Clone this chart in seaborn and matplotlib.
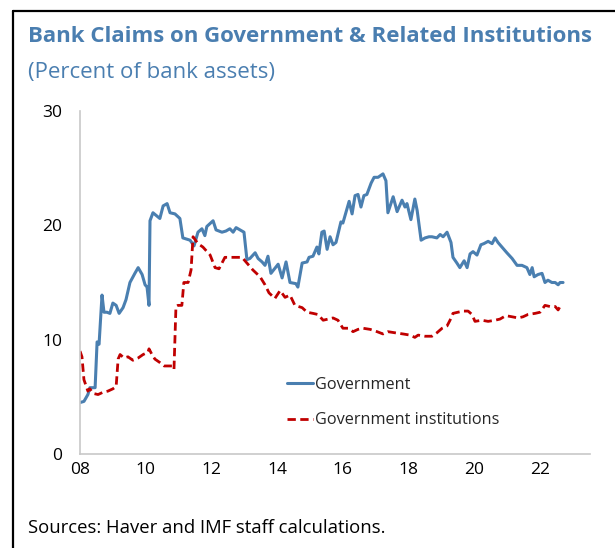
import matplotlib
matplotlib.use('Agg')
import matplotlib.pyplot as plt
from matplotlib.lines import Line2D
import seaborn as sns
import pandas as pd

# Data (decimal years)
gov_years = [2008.00, 2008.12, 2008.24, 2008.30, 2008.46, 2008.52, 2008.58, 2008.67, 2008.73, 2008.82,
             2008.91, 2009.00, 2009.10, 2009.19, 2009.31, 2009.40, 2009.52, 2009.67, 2009.77, 2009.89,
             2009.98, 2010.04, 2010.10, 2010.13, 2010.22, 2010.43, 2010.53, 2010.65, 2010.74, 2010.89,
             2011.04, 2011.13, 2011.35, 2011.47, 2011.59, 2011.71, 2011.80, 2011.86, 2012.05, 2012.14,
             2012.32, 2012.44, 2012.56, 2012.66, 2012.75, 2012.87, 2012.99, 2013.08, 2013.17, 2013.33,
             2013.42, 2013.54, 2013.63, 2013.72, 2013.81, 2014.03, 2014.15, 2014.27, 2014.39, 2014.57,
             2014.63, 2014.76, 2014.91, 2014.97, 2015.09, 2015.21, 2015.27, 2015.36, 2015.43, 2015.52,
             2015.61, 2015.70, 2015.79, 2015.94, 2016.00, 2016.19, 2016.28, 2016.37, 2016.46, 2016.55,
             2016.64, 2016.73, 2016.86, 2016.95, 2017.07, 2017.22, 2017.31, 2017.37, 2017.53, 2017.65,
             2017.80, 2017.89, 2017.95, 2018.07, 2018.19, 2018.26, 2018.38, 2018.50, 2018.62, 2018.71,
             2018.86, 2018.96, 2019.05, 2019.17, 2019.29, 2019.35, 2019.47, 2019.56, 2019.69, 2019.78,
             2019.87, 2019.96, 2020.08, 2020.20, 2020.29, 2020.42, 2020.54, 2020.63, 2020.72, 2020.84,
             2020.99, 2021.15, 2021.30, 2021.45, 2021.60, 2021.69, 2021.76, 2021.82, 2021.94, 2022.06,
             2022.15, 2022.24, 2022.36, 2022.46, 2022.55, 2022.61, 2022.70]
gov_values = [4.5, 4.6, 5.2, 5.8, 5.8, 9.8, 9.6, 13.9, 12.4, 12.4,
              12.3, 13.2, 13.0, 12.3, 12.8, 13.5, 15.0, 15.8, 16.3, 15.7,
              14.8, 14.6, 13.0, 20.4, 21.1, 20.6, 21.7, 21.9, 21.1, 21.0,
              20.6, 18.9, 18.7, 18.2, 19.4, 19.7, 19.1, 19.9, 20.4, 19.6,
              19.4, 19.5, 19.7, 19.4, 19.8, 19.6, 19.4, 17.0, 17.1, 17.6,
              17.1, 16.8, 16.5, 17.3, 15.8, 16.6, 15.4, 16.8, 15.0, 14.9,
              14.6, 16.7, 16.8, 17.2, 17.3, 18.1, 17.5, 19.4, 19.5, 17.9,
              19.0, 18.3, 18.5, 20.3, 20.2, 22.1, 21.0, 22.6, 22.7, 21.6,
              22.6, 22.7, 23.7, 24.2, 24.2, 24.5, 23.9, 21.1, 22.5, 21.2,
              22.2, 21.6, 21.9, 20.5, 22.3, 21.3, 18.7, 18.9, 19.0, 19.0,
              18.9, 19.2, 19.0, 19.4, 18.5, 17.2, 16.7, 16.3, 16.9, 16.3,
              17.5, 17.7, 17.4, 18.3, 18.4, 18.6, 18.4, 18.9, 18.5, 18.1,
              17.6, 17.1, 16.5, 16.5, 16.3, 15.7, 16.3, 15.5, 15.7, 15.8,
              15.0, 15.2, 15.0, 15.0, 14.8, 15.0, 15.0]

inst_years = [2008.00, 2008.06, 2008.12, 2008.24, 2008.30, 2008.40, 2008.55, 2008.70, 2008.85, 2009.00,
              2009.10, 2009.16, 2009.22, 2009.34, 2009.46, 2009.61, 2009.77, 2009.92, 2010.07, 2010.10,
              2010.19, 2010.28, 2010.43, 2010.56, 2010.68, 2010.80, 2010.86, 2010.92, 2010.98, 2011.10,
              2011.16, 2011.29, 2011.38, 2011.44, 2011.59, 2011.74, 2011.96, 2012.11, 2012.23, 2012.41,
              2012.66, 2012.93, 2013.08, 2013.26, 2013.48, 2013.63, 2013.75, 2013.93, 2014.09, 2014.24,
              2014.39, 2014.54, 2014.76, 2014.91, 2015.09, 2015.24, 2015.40, 2015.55, 2015.70, 2015.85,
              2016.00, 2016.16, 2016.31, 2016.46, 2016.61, 2016.83, 2017.04, 2017.22, 2017.37, 2017.59,
              2017.83, 2018.04, 2018.19, 2018.29, 2018.50, 2018.71, 2018.86, 2019.02, 2019.17, 2019.26,
              2019.35, 2019.50, 2019.66, 2019.81, 2019.93, 2020.02, 2020.23, 2020.42, 2020.63, 2020.78,
              2020.96, 2021.15, 2021.33, 2021.48, 2021.63, 2021.85, 2022.00, 2022.15, 2022.30, 2022.46,
              2022.55, 2022.61, 2022.70]
inst_values = [9.0, 8.5, 6.5, 5.5, 5.7, 5.3, 5.2, 5.4, 5.5, 5.7,
               5.9, 8.3, 8.7, 8.4, 8.5, 8.2, 8.4, 8.7, 8.9, 9.2,
               8.7, 8.3, 8.0, 7.7, 7.7, 7.7, 7.4, 12.9, 13.0, 13.0,
               15.0, 15.0, 16.1, 19.0, 18.4, 18.1, 17.4, 16.3, 16.2, 17.2,
               17.2, 17.2, 16.7, 16.1, 15.5, 14.8, 14.1, 13.6, 14.3, 13.7,
               13.9, 13.0, 12.8, 12.4, 12.3, 12.2, 11.7, 11.8, 11.9, 11.7,
               11.0, 11.0, 10.7, 10.9, 11.0, 10.9, 10.7, 10.5, 10.7, 10.6,
               10.5, 10.4, 10.2, 10.4, 10.3, 10.3, 10.6, 11.0, 11.2, 11.7,
               12.3, 12.4, 12.5, 12.5, 12.2, 11.6, 11.7, 11.6, 11.7, 11.8,
               12.1, 12.0, 11.9, 12.0, 12.2, 12.3, 12.4, 13.0, 12.9, 12.9,
               12.6, 12.9, 12.8]

x_ticks = [2008, 2010, 2012, 2014, 2016, 2018, 2020, 2022]
x_tick_labels = ['08', '10', '12', '14', '16', '18', '20', '22']
y_ticks = [0, 10, 20, 30]

title = 'Bank Claims on Government & Related Institutions'
subtitle = '(Percent of bank assets)'
source = 'Sources: Haver and IMF staff calculations.'

gov_df = pd.DataFrame({'year': gov_years, 'value': gov_values})
inst_df = pd.DataFrame({'year': inst_years, 'value': inst_values})

sns.set_style('white')
plt.rcParams['font.family'] = ['Open Sans', 'DejaVu Sans']

blue = '#4a7fb0'
red = '#c00000'
title_color = '#4a7eb0'
axis_gray = '#c8c8c8'

fig = plt.figure(figsize=(6.15, 5.48), dpi=100)
ax = fig.add_axes([80 / 615, 1 - 454 / 548, 510 / 615, (454 - 111) / 548])

sns.lineplot(data=gov_df, x='year', y='value', ax=ax, color=blue, linewidth=2.2,
             label='Government')
sns.lineplot(data=inst_df, x='year', y='value', ax=ax, color=red, linewidth=2.0,
             label='Government institutions')
ax.lines[1].set_dashes([3, 1.6])

ax.set_xlim(2008, 2023.52)
ax.set_ylim(0, 30)
ax.set_xticks(x_ticks)
ax.set_xticklabels(x_tick_labels)
ax.set_yticks(y_ticks)
ax.set_xlabel('')
ax.set_ylabel('')

for side in ['top', 'right']:
    ax.spines[side].set_visible(False)
for side in ['left', 'bottom']:
    ax.spines[side].set_color(axis_gray)
    ax.spines[side].set_linewidth(1.2)

ax.tick_params(axis='x', direction='in', length=5, color=axis_gray, labelsize=12.5,
               labelcolor='black', pad=6)
ax.tick_params(axis='y', direction='in', length=5, color=axis_gray, labelsize=12.5,
               labelcolor='black', pad=13)

leg = ax.legend(loc='upper left', bbox_to_anchor=(287 / 615, 1 - 377 / 548),
                bbox_transform=fig.transFigure, frameon=False, fontsize=11.7,
                handlelength=1.6, handletextpad=0.1, labelspacing=1.2,
                borderpad=0, borderaxespad=0)

fig.text(28 / 615, 1 - 37 / 548, title, color=title_color, fontsize=16,
         fontweight='bold', va='center', ha='left')
fig.text(28 / 615, 1 - 72 / 548, subtitle, color=title_color, fontsize=16,
         va='center', ha='left')
fig.text(28 / 615, 1 - 528 / 548, source, color='black', fontsize=13.3,
         va='center', ha='left')

# frame lines on the left and top of the figure
fig.add_artist(Line2D([13 / 615, 13 / 615], [0, 1 - 11 / 548], color='black',
                      linewidth=1.6, transform=fig.transFigure))
fig.add_artist(Line2D([13 / 615, 1], [1 - 11 / 548, 1 - 11 / 548], color='black',
                      linewidth=1.6, transform=fig.transFigure))

fig.savefig('out.png', dpi=100)
